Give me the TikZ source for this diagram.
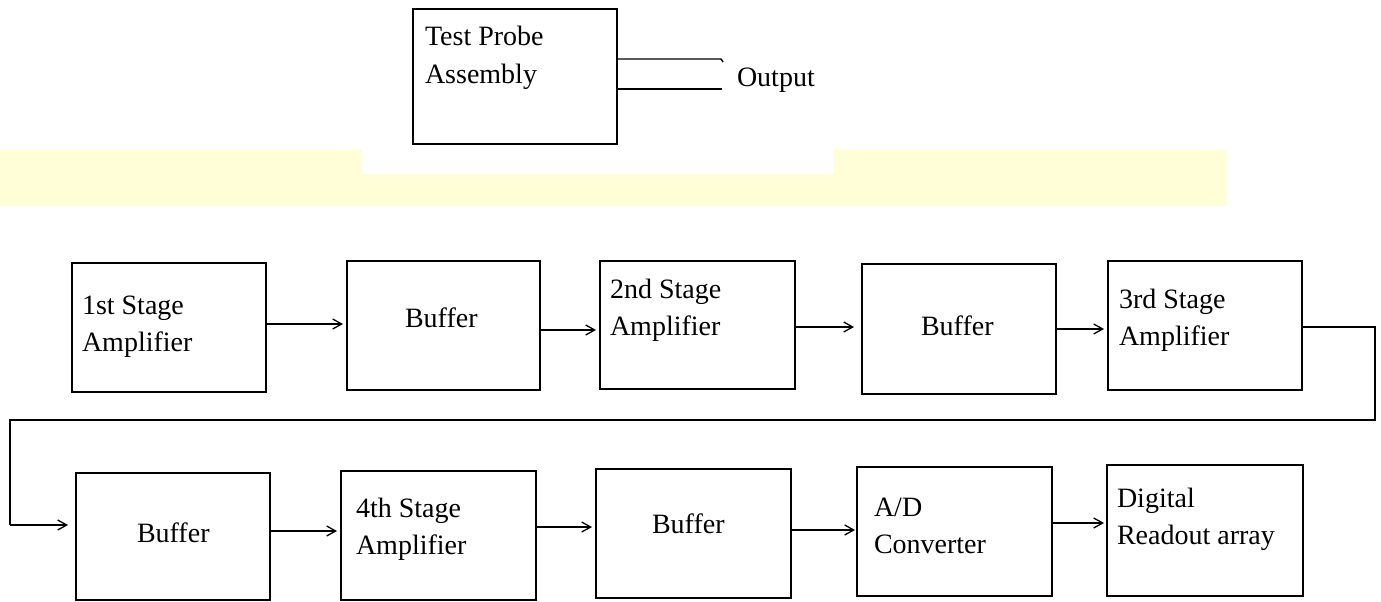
\documentclass[tikz,border=0pt]{standalone}
\usepackage{fontspec}
\setmainfont{Liberation Serif}
\usetikzlibrary{arrows.meta}
\definecolor{bandyellow}{RGB}{255,254,215}
\newcommand{\twolines}[2]{\vtop{\baselineskip=37pt\hbox{#1}\hbox{#2}}}
\begin{document}
\begin{tikzpicture}[x=1pt,y=-1pt,
  box/.style={draw=black, line width=1.8pt, inner sep=0pt, outer sep=0pt},
  txt/.style={font=\fontsize{28}{37}\selectfont, inner sep=0pt, outer sep=0pt, anchor=base west},
  conn/.style={draw=black, line width=1.4pt},
  arr/.style={conn, -{Straight Barb[length=9pt,width=10pt,line width=1.3pt]}}]
\useasboundingbox (0,0) rectangle (1381,602);
% yellow band
\fill[bandyellow] (0,150) -- (362,150) -- (362,174) -- (834,174) -- (834,150) -- (1227,150) -- (1227,206) -- (0,206) -- cycle;
% test probe
\node[box, minimum width=204pt, minimum height=135pt] (tp) at (515,76.5) {};
\node[txt] (tpt) at (425,46) {\twolines{Test Probe}{Assembly}};
\coordinate (o1) at (721,59);
\coordinate (o2) at (722,89);
\draw[conn] (tp.east |- o1) -- (o1) -- ++(2,3);
\draw[conn] (tp.east |- o2) -- (o2);
\node[txt] (out) at (737,86) {Output};
% row 1
\node[box, minimum width=194pt, minimum height=129pt] (b1) at (169,327.5) {};
\node[box, minimum width=193pt, minimum height=129pt] (b2) at (443.5,325.5) {};
\node[box, minimum width=195pt, minimum height=128pt] (b3) at (697.5,325) {};
\node[box, minimum width=194pt, minimum height=130pt] (b4) at (959,329) {};
\node[box, minimum width=194pt, minimum height=129pt] (b5) at (1205,325.5) {};
\node[txt] (t1) at (82,314) {\twolines{1st Stage}{Amplifier}};
\node[txt] (t2) at (405,327) {Buffer};
\node[txt] (t3) at (610,298) {\twolines{2nd Stage}{Amplifier}};
\node[txt] (t4) at (921,335) {Buffer};
\node[txt] (t5) at (1119,308) {\twolines{3rd Stage}{Amplifier}};
% row 2
\node[box, minimum width=194pt, minimum height=127pt] (b6) at (173,536.5) {};
\node[box, minimum width=195pt, minimum height=129pt] (b7) at (438.5,535.5) {};
\node[box, minimum width=195pt, minimum height=129pt] (b8) at (693.5,533.5) {};
\node[box, minimum width=195pt, minimum height=129pt] (b9) at (954.5,531.5) {};
\node[box, minimum width=196pt, minimum height=131pt] (b10) at (1205,530.5) {};
\node[txt] (t6) at (137,542) {Buffer};
\node[txt] (t7) at (356,517) {\twolines{4th Stage}{Amplifier}};
\node[txt] (t8) at (652,533) {Buffer};
\node[txt] (t9) at (874,516) {\twolines{A/D}{Converter}};
\node[txt] (t10) at (1117,507) {\twolines{Digital}{Readout array}};
% arrows row 1
\draw[arr] (b1.east |- 0,324) -- ([xshift=-4pt]b2.west |- 0,324);
\draw[arr] (b2.east |- 0,330) -- ([xshift=-4pt]b3.west |- 0,330);
\draw[arr] (b3.east |- 0,327) -- ([xshift=-8pt]b4.west |- 0,327);
\draw[arr] (b4.east |- 0,329) -- ([xshift=-4pt]b5.west |- 0,329);
% loop
\coordinate (l1) at (1375,327);
\coordinate (l2) at (1375,420);
\coordinate (l3) at (10,420);
\coordinate (l4) at (10,525);
\draw[conn] (b5.east |- l1) -- (l1) -- (l2) -- (l3) -- (l4);
\draw[arr] (l4) -- ([xshift=-8pt]b6.west |- l4);
% arrows row 2
\draw[arr] (b6.east |- 0,531) -- ([xshift=-4pt]b7.west |- 0,531);
\draw[arr] (b7.east |- 0,527) -- ([xshift=-4pt]b8.west |- 0,527);
\draw[arr] (b8.east |- 0,530) -- ([xshift=-2pt]b9.west |- 0,530);
\draw[arr] (b9.east |- 0,523) -- ([xshift=-3pt]b10.west |- 0,523);
\end{tikzpicture}
\end{document}
